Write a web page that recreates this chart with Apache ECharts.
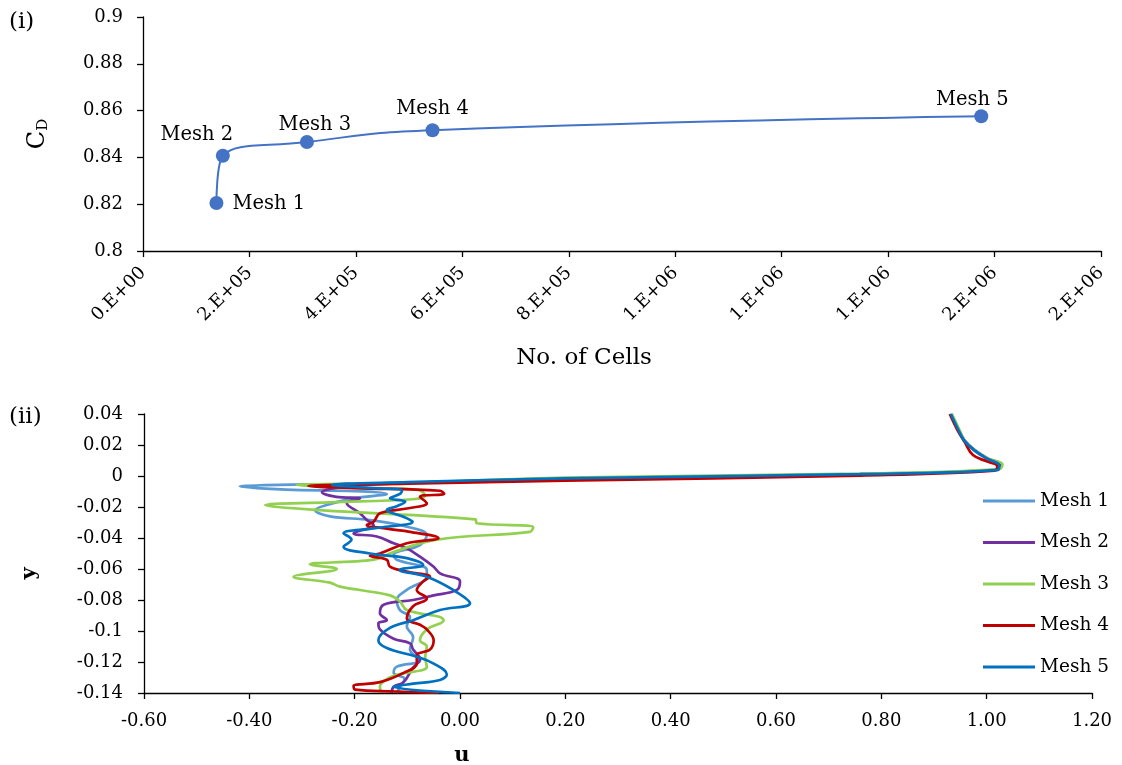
<!DOCTYPE html>
<html>
<head>
<meta charset="utf-8">
<script src="https://cdn.jsdelivr.net/npm/echarts@6/dist/echarts.min.js"></script>
<style>
html,body{margin:0;padding:0;background:#fff;}
#c{width:1122px;height:765px;}
</style>
</head>
<body>
<div id="c"></div>
<script>
// ---- Chart (i): drag coefficient vs number of cells ----
const meshNames = ['Mesh 1', 'Mesh 2', 'Mesh 3', 'Mesh 4', 'Mesh 5'];
const cellCounts = [138000, 150000, 308000, 544000, 1575000];
const cdValues = [0.8205, 0.8407, 0.8466, 0.8516, 0.8576];
const cellTickLabels = ['0.E+00','2.E+05','4.E+05','6.E+05','8.E+05','1.E+06','1.E+06','1.E+06','2.E+06','2.E+06'];
const cdTickLabels = ['0.8','0.82','0.84','0.86','0.88','0.9'];

// ---- Chart (ii): velocity profiles [u, y] ----
const mesh1 = [[0.932,0.04],[0.946,0.03],[0.957,0.023],[0.976,0.0165],[1.0,0.0112],[1.026,0.0072],[1.02,0.004],[0.76,0.0013],[0.2,-0.0025],[-0.2,-0.005],[-0.418,-0.0068],[-0.33,-0.0088],[-0.2,-0.0098],[-0.139,-0.0116],[-0.203,-0.0144],[-0.253,-0.0187],[-0.275,-0.022],[-0.247,-0.026],[-0.171,-0.0284],[-0.101,-0.0327],[-0.063,-0.038],[-0.076,-0.0445],[-0.126,-0.051],[-0.12,-0.054],[-0.063,-0.0606],[-0.063,-0.065],[-0.101,-0.0735],[-0.12,-0.08],[-0.114,-0.0865],[-0.095,-0.091],[-0.101,-0.097],[-0.089,-0.104],[-0.095,-0.112],[-0.076,-0.119],[-0.12,-0.123],[-0.126,-0.127],[-0.105,-0.131],[-0.114,-0.136],[-0.12,-0.14]];
const mesh2 = [[0.933,0.04],[0.947,0.03],[0.958,0.023],[0.978,0.0165],[1.003,0.0112],[1.028,0.0073],[1.022,0.0042],[0.76,0.0012],[0.2,-0.002],[-0.1,-0.0045],[-0.22,-0.007],[-0.262,-0.0105],[-0.235,-0.0135],[-0.19,-0.0145],[-0.215,-0.0176],[-0.19,-0.024],[-0.177,-0.0284],[-0.164,-0.0316],[-0.202,-0.037],[-0.158,-0.039],[-0.126,-0.0434],[-0.101,-0.0467],[-0.076,-0.052],[-0.05,-0.0585],[-0.038,-0.0628],[0.0,-0.068],[-0.006,-0.0735],[-0.05,-0.077],[-0.089,-0.08],[-0.145,-0.083],[-0.152,-0.0886],[-0.139,-0.093],[-0.155,-0.095],[-0.152,-0.099],[-0.126,-0.105],[-0.095,-0.108],[-0.089,-0.112],[-0.076,-0.118],[-0.09,-0.124],[-0.107,-0.133],[-0.126,-0.136],[-0.13,-0.14]];
const mesh3 = [[0.934,0.04],[0.948,0.03],[0.958,0.023],[0.978,0.0165],[1.003,0.0112],[1.03,0.0075],[1.024,0.0045],[0.76,0.0016],[0.2,-0.001],[-0.1,-0.0045],[-0.31,-0.0058],[-0.2,-0.0075],[-0.08,-0.009],[-0.066,-0.0125],[-0.09,-0.015],[-0.25,-0.017],[-0.37,-0.0187],[-0.266,-0.022],[0.029,-0.028],[0.032,-0.0305],[0.139,-0.033],[0.133,-0.036],[-0.044,-0.041],[-0.126,-0.049],[-0.164,-0.054],[-0.285,-0.057],[-0.234,-0.06],[-0.316,-0.065],[-0.247,-0.0688],[-0.228,-0.0714],[-0.133,-0.077],[-0.114,-0.081],[-0.101,-0.0865],[-0.038,-0.091],[-0.031,-0.093],[-0.063,-0.099],[-0.076,-0.106],[-0.063,-0.11],[-0.066,-0.117],[-0.063,-0.123],[-0.126,-0.129],[-0.152,-0.136],[-0.15,-0.14]];
const mesh4 = [[0.93,0.04],[0.944,0.03],[0.958,0.022],[0.974,0.0135],[1.0,0.0095],[1.02,0.0065],[1.015,0.0035],[0.76,0.0003],[0.2,-0.003],[-0.1,-0.005],[-0.288,-0.0065],[-0.2,-0.0078],[-0.038,-0.0095],[-0.03,-0.0115],[-0.076,-0.0134],[-0.063,-0.0176],[-0.101,-0.021],[-0.152,-0.024],[-0.164,-0.0295],[-0.177,-0.0316],[-0.139,-0.034],[-0.095,-0.036],[-0.041,-0.04],[-0.101,-0.0434],[-0.152,-0.05],[-0.171,-0.0515],[-0.139,-0.054],[-0.133,-0.0585],[-0.101,-0.0617],[-0.057,-0.065],[-0.07,-0.068],[-0.082,-0.0735],[-0.063,-0.079],[-0.089,-0.084],[-0.101,-0.092],[-0.076,-0.096],[-0.063,-0.099],[-0.05,-0.106],[-0.057,-0.112],[-0.082,-0.1155],[-0.082,-0.121],[-0.107,-0.127],[-0.152,-0.133],[-0.202,-0.1355],[-0.199,-0.1378],[-0.126,-0.139],[-0.04,-0.14]];
const mesh5 = [[0.932,0.04],[0.946,0.03],[0.957,0.023],[0.977,0.0165],[1.002,0.011],[1.024,0.0068],[1.02,0.0038],[0.76,0.0012],[0.2,-0.0015],[-0.1,-0.004],[-0.243,-0.0058],[-0.18,-0.0075],[-0.11,-0.0095],[-0.114,-0.0116],[-0.133,-0.0144],[-0.104,-0.0166],[-0.12,-0.0195],[-0.139,-0.022],[-0.11,-0.026],[-0.09,-0.0295],[-0.164,-0.0338],[-0.221,-0.037],[-0.206,-0.041],[-0.221,-0.0456],[-0.171,-0.05],[-0.101,-0.053],[-0.07,-0.0574],[-0.114,-0.0606],[-0.063,-0.065],[-0.013,-0.0735],[0.019,-0.0821],[-0.038,-0.0865],[-0.089,-0.093],[-0.133,-0.098],[-0.155,-0.106],[-0.139,-0.111],[-0.082,-0.1166],[-0.05,-0.121],[-0.025,-0.128],[-0.038,-0.1316],[-0.089,-0.134],[-0.126,-0.136],[0.0,-0.14]];
const profileSeries = [mesh1, mesh2, mesh3, mesh4, mesh5];
const profileColors = ['#5B9BD5', '#7030A0', '#92D050', '#C00000', '#0070C0'];
const uTickLabels = ['-0.60','-0.40','-0.20','0.00','0.20','0.40','0.60','0.80','1.00','1.20'];
const yTickLabels = ['-0.14','-0.12','-0.1','-0.08','-0.06','-0.04','-0.02','0','0.02','0.04'];

const FONT = 'DejaVu Serif';
const labelOffsets = [
  {position:'right', offset:[4,1]},
  {position:'top', offset:[-26,1]},
  {position:'top', offset:[8,5]},
  {position:'top', offset:[0,1]},
  {position:'top', offset:[-9,6]}
];

const axisCommon = {
  axisLine:{show:true, onZero:false, lineStyle:{color:'#000', width:1.3}},
  axisTick:{show:true, inside:false, length:6, lineStyle:{color:'#000', width:1.3}},
  splitLine:{show:false},
  axisLabel:{color:'#000', fontFamily:FONT, fontSize:18}
};

const chart = echarts.init(document.getElementById('c'), null, {renderer:'canvas'});
chart.setOption({
  backgroundColor:'#fff',
  animation:false,
  textStyle:{fontFamily:FONT},
  graphic:[
    {type:'text', left:9, top:11, style:{text:'(i)', font:'23px "DejaVu Serif"', fill:'#000'}},
    {type:'text', left:9, top:406, style:{text:'(ii)', font:'23px "DejaVu Serif"', fill:'#000'}}
  ],
  grid:[
    {left:143, top:17, width:958, height:234, outerBoundsMode:'none', containLabel:false},
    {left:144, top:414, width:948, height:279, outerBoundsMode:'none', containLabel:false}
  ],
  legend:{
    data:meshNames,
    orient:'vertical',
    left:978, top:486,
    icon:'rect', itemWidth:52, itemHeight:3, itemGap:21.5,
    textStyle:{fontFamily:FONT, fontSize:18.5, color:'#000', lineHeight:20}
  },
  xAxis:[
    Object.assign({}, axisCommon, {
      gridIndex:0, type:'value', min:0, max:1800000, interval:200000,
      name:'No. of Cells', nameLocation:'middle', nameGap:96,
      nameTextStyle:{fontFamily:FONT, fontSize:23, color:'#000', padding:[0,76,0,0]},
      axisLabel:Object.assign({}, axisCommon.axisLabel, {rotate:45, margin:19,
        formatter:v => cellTickLabels[Math.round(v/200000)]})
    }),
    Object.assign({}, axisCommon, {
      gridIndex:1, type:'value', min:-0.6, max:1.2, interval:0.2,
      name:'u', nameLocation:'middle', nameGap:52,
      nameTextStyle:{fontFamily:FONT, fontSize:21, fontWeight:'bold', color:'#000', padding:[0,312,0,0]},
      axisLabel:Object.assign({}, axisCommon.axisLabel, {margin:19,
        formatter:v => uTickLabels[Math.round((v+0.6)/0.2)]})
    })
  ],
  yAxis:[
    Object.assign({}, axisCommon, {
      gridIndex:0, type:'value', min:0.8, max:0.9, interval:0.02,
      name:'{c|C}{d|D}', nameLocation:'middle', nameGap:92,
      nameTextStyle:{fontFamily:FONT, color:'#000',
        rich:{c:{fontFamily:FONT, fontSize:24, color:'#000'}, d:{fontFamily:FONT, fontSize:15, color:'#000', padding:[12,0,0,0]}}},
      axisLabel:Object.assign({}, axisCommon.axisLabel, {margin:20,
        formatter:v => cdTickLabels[Math.round((v-0.8)/0.02)]})
    }),
    Object.assign({}, axisCommon, {
      gridIndex:1, type:'value', min:-0.14, max:0.04, interval:0.02,
      name:'y', nameLocation:'middle', nameGap:104,
      nameTextStyle:{fontFamily:FONT, fontSize:21, fontWeight:'bold', color:'#000', padding:[0,40,0,0]},
      axisLabel:Object.assign({}, axisCommon.axisLabel, {margin:21,
        formatter:v => yTickLabels[Math.round((v+0.14)/0.02)]})
    })
  ],
  series:[
    {
      name:'CD', type:'line', xAxisIndex:0, yAxisIndex:0,
      smooth:0.5, symbol:'circle', symbolSize:14,
      lineStyle:{color:'#4472C4', width:2},
      itemStyle:{color:'#4472C4'},
      data:cellCounts.map((c,i)=>({
        value:[c, cdValues[i]],
        label:Object.assign({show:true, formatter:meshNames[i], fontFamily:FONT, fontSize:19.5, color:'#000'}, labelOffsets[i])
      }))
    }
  ].concat(profileSeries.map((d,i)=>({
    name:meshNames[i], type:'line', xAxisIndex:1, yAxisIndex:1,
    smooth:0.4, symbol:'none', showSymbol:false,
    lineStyle:{color:profileColors[i], width:2.7},
    itemStyle:{color:profileColors[i]},
    data:d
  })))
});
</script>
</body>
</html>
